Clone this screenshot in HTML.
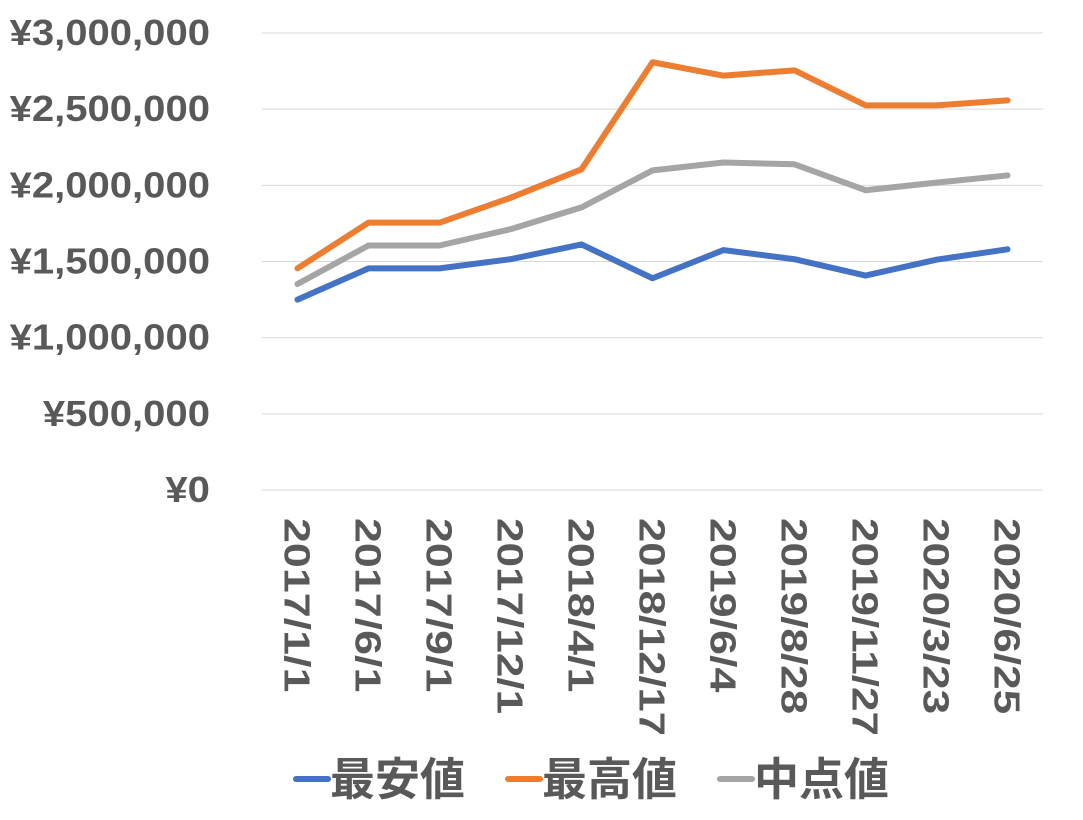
<!DOCTYPE html>
<html><head><meta charset="utf-8"><style>
body{margin:0;background:#fff;}
svg text{font-family:"Liberation Sans","Noto Sans CJK JP",sans-serif;font-weight:bold;fill:#595959;}
</style></head><body>
<svg width="1083" height="815" id="chart"></svg>
<script>
const categories=["2017/1/1","2017/6/1","2017/9/1","2017/12/1","2018/4/1","2018/12/17","2019/6/4","2019/8/28","2019/11/27","2020/3/23","2020/6/25"];
const minValues=[1250000,1455000,1455000,1515000,1612000,1390000,1575000,1515000,1408000,1512000,1580000];
const maxValues=[1455000,1755000,1755000,1918000,2105000,2808000,2720000,2755000,2525000,2525000,2558000];
const midValues=[1352000,1605000,1605000,1712000,1855000,2098000,2150000,2138000,1968000,2018000,2065000];
const yTicks=[0,500000,1000000,1500000,2000000,2500000,3000000];
const yTickLabels=["¥0","¥500,000","¥1,000,000","¥1,500,000","¥2,000,000","¥2,500,000","¥3,000,000"];
const seriesNames=["最安値","最高値","中点値"];
const NS="http://www.w3.org/2000/svg";
const svg=document.getElementById('chart');
const x0=262,x1=1043,y0=490,y1=33;
const xs=i=>x0+(x1-x0)*(i+0.5)/categories.length;
const ys=v=>y0-(y0-y1)*v/3000000;
function mk(t,a){const e=document.createElementNS(NS,t);for(const k in a)e.setAttribute(k,a[k]);svg.appendChild(e);return e;}
yTicks.forEach((v,i)=>{
 const l=mk('line',{x1:x0,x2:x1,y1:ys(v),y2:ys(v),stroke:'#d9d9d9','stroke-width':1});
 
 
 const lab=yTickLabels[i];
 const commas=(lab.match(/,/g)||[]).length;
 const len=(lab.length-commas)*22.3+commas*11;
 const t=mk('text',{x:210-len,y:ys(v)+12,'font-size':36,textLength:len,lengthAdjust:'spacingAndGlyphs'});
 t.textContent=lab;
 
 
});
categories.forEach((c,i)=>{
 const t=mk('text',{x:0,y:0,'font-size':36,textLength:c.length*21.8,lengthAdjust:'spacingAndGlyphs',transform:`translate(${xs(i)-13},518) rotate(90)`});
 t.textContent=c;
 
 
});
const colors=['#4472c4','#ed7d31','#a5a5a5'];
[minValues,maxValues,midValues].forEach((arr,s)=>{
 const p=mk('polyline',{points:arr.map((v,i)=>xs(i)+','+ys(v)).join(' '),fill:'none',stroke:colors[s],'stroke-width':6,'stroke-linejoin':'round','stroke-linecap':'round'});
 
 
});
const lx=[296,508,720];
seriesNames.forEach((n,s)=>{
 const l=mk('line',{x1:lx[s],x2:lx[s]+32,y1:779,y2:779,stroke:colors[s],'stroke-width':6,'stroke-linecap':'round'});
 
 
 const t=mk('text',{x:lx[s]+34,y:795,'font-size':45});
 t.textContent=n;
 
 
});
</script>
</body></html>
